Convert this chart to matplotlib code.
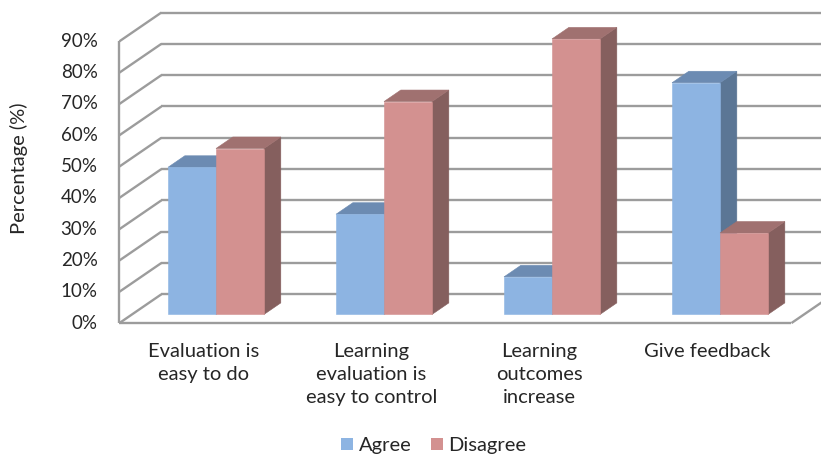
import matplotlib.pyplot as plt
from matplotlib.patches import Polygon, Patch

categories = ["Evaluation is\neasy to do",
              "Learning\nevaluation is\neasy to control",
              "Learning\noutcomes\nincrease",
              "Give feedback"]
agree = [47, 32, 12, 74]
disagree = [53, 68, 88, 26]
series = ["Agree", "Disagree"]
yticks = [0, 10, 20, 30, 40, 50, 60, 70, 80, 90]

# face colours: front, top, side
colors = {
    "Agree": ("#8db4e2", "#6c8bb2", "#5b7695"),
    "Disagree": ("#d39190", "#a07170", "#855f5e"),
}

plt.rcParams['font.family'] = ['Lato', 'DejaVu Sans']

# oblique projection: depth 1 shifts by (DX category units, DY percent)
DX, DY = 0.25, 9.2
BAR_W = 1 / 3.5
D0, D1 = 0.3, 0.7


def proj(x, v, d):
    return (x + d * DX, v + d * DY)


fig = plt.figure(figsize=(8.21, 4.58), dpi=100)
ax = fig.add_axes([0, 0, 1, 1])
ax.set_xlim(-1.2107, 3.676)
ax.set_ylim(-43.1, 103.2)
ax.axis('off')

grid_kw = dict(color='#9c9c9c', lw=1.7, solid_capstyle='butt', zorder=1)
x0, x1 = -0.5, len(categories) - 0.5
for v in yticks:
    # back wall
    p, q = proj(x0, v, 1), proj(x1, v, 1)
    ax.plot([p[0], q[0]], [p[1], q[1]], **grid_kw)
    # left wall
    p, q = proj(x0, v, 0), proj(x0, v, 1)
    ax.plot([p[0], q[0]], [p[1], q[1]], **grid_kw)
    ax.text(x0 - 0.13, v, f"{v}%", ha='right', va='center',
            fontsize=13.5, color='#262626')

# floor front and right edges, left wall front edge
ax.plot([x0, x1], [0, 0], **grid_kw)
p = proj(x1, 0, 1)
ax.plot([x1, p[0]], [0, p[1]], **grid_kw)
ax.plot([x0, x0], [0, yticks[-1]], **grid_kw)

for i, cat in enumerate(categories):
    for j, (name, vals) in enumerate(zip(series, [agree, disagree])):
        v = vals[i]
        left = i - BAR_W + j * BAR_W
        right = left + BAR_W
        front, top, side = colors[name]
        fr = [proj(left, 0, D0), proj(right, 0, D0),
              proj(right, v, D0), proj(left, v, D0)]
        tp = [proj(left, v, D0), proj(right, v, D0),
              proj(right, v, D1), proj(left, v, D1)]
        sd = [proj(right, 0, D0), proj(right, 0, D1),
              proj(right, v, D1), proj(right, v, D0)]
        z = 3 + j
        for pts, c in ((sd, side), (tp, top), (fr, front)):
            ax.add_patch(Polygon(pts, closed=True, fc=c, ec=c, lw=0.4, zorder=z))
    ax.text(i, -6.3, cat, ha='center', va='top', fontsize=14.5,
            color='#262626', linespacing=1.45)

ax.text(-1.095, 45 + DY / 2, "Percentage (%)", rotation=90, ha='center',
        va='center', fontsize=14.5, color='#262626')

handles = [Patch(fc=colors[s][0], ec='none') for s in series]
fig.legend(handles, series, loc='center', bbox_to_anchor=(434 / 821, 1 - 446 / 458),
           ncol=2, frameon=False, fontsize=14.5, handlelength=0.55, handleheight=0.55,
           handletextpad=0.3, columnspacing=1.0, labelcolor='#262626')

fig.savefig('out.png', dpi=100)
